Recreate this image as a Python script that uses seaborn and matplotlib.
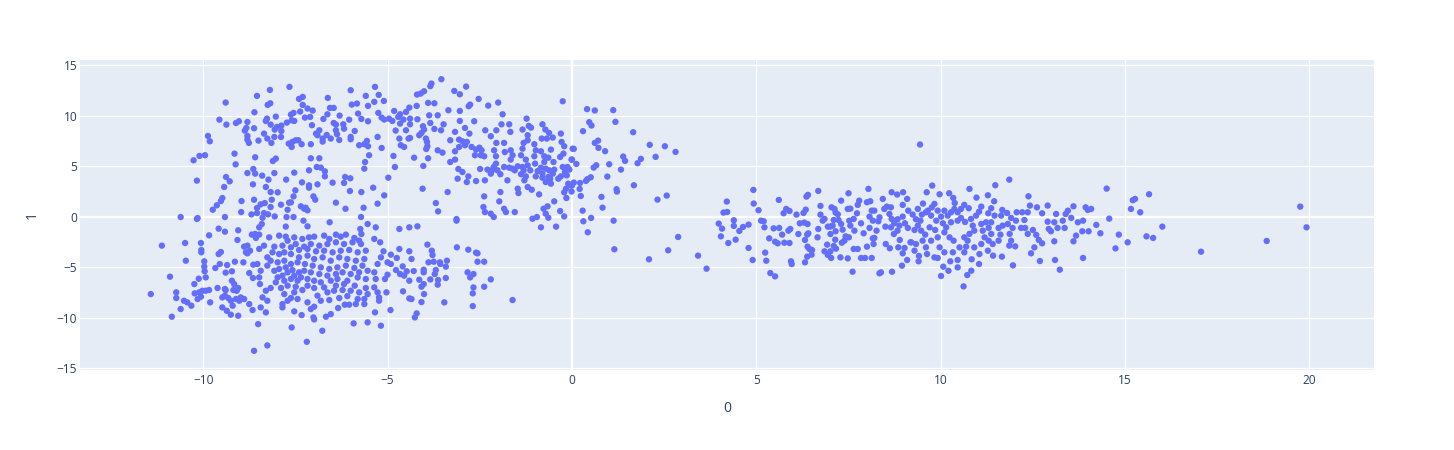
import matplotlib

matplotlib.use("Agg")
import matplotlib.pyplot as plt
import seaborn as sns
import pandas as pd

# --- points, grouped by region (x = column "0", y = column "1") ---
# upper-left blob, x -11.4..-5.5, y > -0.4
left_top = [
    (-7.66, 12.83), (-8.19, 12.53), (-8.54, 11.94), (-9.39, 11.28), (-8.25, 11.05), (-8.18, 11.21),
    (-7.40, 11.64), (-7.30, 11.84), (-7.30, 11.05), (-6.62, 11.74), (-6.00, 12.50), (-5.59, 11.94),
    (-5.97, 11.08), (-5.83, 11.18), (-5.53, 10.95), (-8.61, 10.32), (-8.03, 9.89), (-8.27, 9.69),
    (-8.30, 9.46), (-9.56, 9.59), (-9.37, 9.10), (-9.11, 9.26), (-9.03, 9.43), (-8.80, 9.36),
    (-8.83, 8.77), (-8.87, 8.51), (-8.62, 8.74), (-8.80, 7.98), (-8.80, 7.62), (-8.76, 7.29),
    (-8.50, 7.52), (-8.35, 8.21), (-8.26, 7.72), (-8.15, 7.29), (-8.17, 9.10), (-8.06, 8.61),
    (-8.00, 8.87), (-7.88, 9.00), (-7.73, 9.30), (-7.88, 8.47), (-7.89, 7.88), (-8.07, 7.88),
    (-7.60, 9.53), (-7.55, 10.26), (-7.62, 10.09), (-7.37, 10.39), (-7.17, 10.69), (-7.03, 10.49),
    (-7.10, 9.86), (-7.24, 9.79), (-7.53, 9.46), (-7.05, 9.04), (-6.85, 8.54), (-6.94, 8.21),
    (-6.90, 8.05), (-6.76, 7.72), (-6.76, 7.42), (-6.65, 8.08), (-6.54, 7.72), (-6.63, 10.12),
    (-6.74, 9.66), (-6.56, 10.75), (-6.46, 10.75), (-6.30, 9.99), (-6.46, 9.26), (-6.40, 9.10),
    (-6.40, 8.54), (-6.37, 8.15), (-6.31, 7.58), (-6.20, 9.13), (-6.18, 8.70), (-6.04, 9.59),
    (-5.89, 8.47), (-6.00, 7.88), (-6.00, 7.65), (-5.80, 10.19), (-5.71, 9.66), (-5.53, 9.43),
    (-7.68, 7.22), (-7.58, 7.39), (-7.49, 7.55), (-7.42, 7.55), (-7.33, 7.16), (-7.60, 6.89),
    (-7.08, 7.16), (-5.77, 7.06), (-5.63, 7.16), (-5.56, 7.49), (-5.53, 6.96), (-9.87, 7.98),
    (-9.82, 7.45), (-10.26, 5.57), (-10.10, 6.00), (-9.95, 6.07), (-9.15, 6.23), (-9.12, 5.17),
    (-8.59, 5.87), (-8.11, 5.50), (-8.03, 5.74), (-10.17, 3.56), (-9.38, 3.92), (-9.28, 3.49),
    (-9.43, 2.93), (-8.80, 4.31), (-8.64, 4.71), (-8.59, 4.25), (-8.40, 4.05), (-8.23, 3.66),
    (-8.07, 4.31), (-8.65, 3.19), (-8.30, 2.93), (-8.17, 2.43), (-7.98, 2.40), (-7.75, 3.66),
    (-7.53, 4.35), (-7.08, 5.77), (-6.85, 5.77), (-7.13, 4.58), (-6.92, 4.91), (-6.81, 4.84),
    (-6.70, 4.48), (-6.70, 3.98), (-6.90, 3.19), (-7.13, 3.09), (-7.13, 2.86), (-7.32, 3.39),
    (-7.50, 2.60), (-7.55, 2.00), (-7.67, 1.38), (-7.89, 1.18), (-8.14, 1.67), (-8.33, 1.34),
    (-8.44, 1.21), (-8.62, 1.67), (-8.54, 0.85), (-8.35, 0.35), (-8.24, 0.22), (-8.17, 0.95),
    (-8.06, 0.02), (-7.71, 0.68), (-7.62, 1.41), (-7.35, 1.02), (-7.22, 0.88), (-7.01, 2.00),
    (-6.96, 1.67), (-6.49, 3.36), (-6.15, 3.92), (-6.01, 3.79), (-6.18, 3.33), (-6.02, 2.53),
    (-5.71, 2.43), (-5.61, 5.40), (-5.63, 4.74), (-5.50, 6.07), (-6.40, 1.38), (-6.14, 0.78),
    (-5.65, 0.88), (-5.72, -0.04), (-8.96, 1.54), (-8.97, 0.45), (-9.48, 1.84), (-9.52, 1.54),
    (-9.63, 1.12), (-9.74, 0.68), (-9.41, -0.04), (-10.15, -0.14), (-10.61, -0.04), (-8.69, 0.22),
    (-8.54, 0.35), (-8.39, -0.11), (-7.26, 0.78), (-7.74, -0.04), (-7.55, -0.04), (-7.17, 0.62),
]

# lower-left blob, x -11.5..-5.5, y < -0.4
left_bottom = [
    (-10.17, -0.23), (-11.12, -2.87), (-10.49, -2.61), (-10.47, -4.36), (-10.06, -2.61), (-10.05, -3.30),
    (-10.05, -3.53), (-9.84, -1.85), (-9.58, -1.19), (-9.41, -1.49), (-9.05, -1.35), (-9.58, -3.70),
    (-9.52, -3.50), (-9.97, -4.42), (-9.97, -4.95), (-9.96, -5.41), (-9.55, -4.69), (-9.67, -5.08),
    (-9.35, -4.79), (-9.39, -5.54), (-9.22, -5.41), (-9.14, -4.46), (-9.07, -2.31), (-8.89, -2.97),
    (-8.80, -3.63), (-8.73, -3.37), (-8.91, -4.52), (-8.75, -5.58), (-8.65, -6.07), (-8.64, -4.75),
    (-8.68, -1.78), (-8.59, -1.72), (-8.48, -1.78), (-8.41, -0.73), (-8.48, -1.06), (-8.57, -2.11),
    (-8.80, -2.87), (-8.84, -3.53), (-8.48, -3.20), (-8.35, -2.87), (-8.21, -2.05), (-8.07, -2.97),
    (-8.12, -3.53), (-8.26, -4.03), (-8.53, -4.69), (-8.44, -5.35), (-8.48, -6.01), (-8.46, -6.67),
    (-8.26, -4.85), (-8.17, -4.36), (-8.07, -5.35), (-7.98, -6.01), (-8.03, -6.50), (-8.17, -7.06),
    (-8.30, -7.33), (-8.39, -7.99), (-8.26, -8.32), (-8.44, -8.98), (-8.30, -9.47), (-8.51, -10.63),
    (-8.66, -9.24), (-8.89, -8.15), (-8.75, -8.65), (-9.05, -9.80), (-9.25, -9.70), (-9.36, -9.31),
    (-9.48, -8.98), (-9.20, -8.81), (-9.02, -8.32), (-8.98, -7.99), (-9.11, -8.15), (-9.25, -8.32),
    (-9.32, -8.05), (-9.41, -7.82), (-9.48, -7.99), (-9.39, -7.26), (-9.18, -7.26), (-9.16, -6.67),
    (-9.09, -7.33), (-9.05, -7.06), (-9.22, -6.34), (-9.41, -7.16), (-9.61, -7.06), (-9.84, -7.26),
    (-9.81, -8.48), (-10.06, -7.92), (-10.11, -7.49), (-10.02, -7.33), (-9.93, -7.33), (-10.23, -7.59),
    (-10.24, -6.67), (-10.12, -6.14), (-9.93, -6.01), (-10.15, -8.15), (-10.43, -8.48), (-10.52, -8.32),
    (-10.32, -8.81), (-10.61, -9.14), (-10.73, -7.49), (-10.73, -8.05), (-10.85, -9.90), (-10.90, -5.94),
    (-11.42, -7.66), (-8.62, -13.27), (-8.26, -12.74), (-7.60, -10.96), (-7.19, -12.38), (-6.77, -11.29),
    (-5.92, -10.56), (-5.54, -10.46), (-6.99, -10.17), (-7.01, -9.97), (-7.33, -9.74), (-7.53, -9.37),
    (-7.85, -8.98), (-7.85, -8.65), (-7.71, -8.32), (-7.44, -8.15), (-7.17, -8.48), (-7.08, -9.14),
    (-6.99, -8.91), (-6.67, -9.90), (-6.54, -9.64), (-6.34, -9.04), (-6.16, -8.71), (-6.04, -8.71),
    (-5.86, -8.65), (-5.63, -8.65), (-5.63, -8.15), (-5.81, -8.15), (-6.09, -7.86), (-6.31, -8.05),
    (-6.58, -8.25), (-6.81, -8.32), (-6.90, -7.82), (-6.63, -7.49), (-6.45, -7.33), (-6.22, -7.26),
    (-6.00, -7.33), (-5.77, -7.49), (-5.54, -7.66), (-5.59, -7.06), (-5.89, -6.83), (-6.18, -6.67),
    (-6.40, -6.83), (-6.72, -7.00), (-6.99, -7.06), (-7.17, -6.83), (-7.31, -7.26), (-7.53, -7.49),
    (-7.62, -8.05), (-7.80, -7.66), (-7.89, -7.06), (-7.71, -6.83), (-7.49, -6.93), (-7.44, -6.34),
    (-7.62, -6.17), (-7.80, -6.34), (-7.85, -5.84), (-7.71, -5.51), (-7.53, -5.84), (-7.35, -6.01),
    (-7.17, -6.17), (-6.99, -6.34), (-6.81, -6.50), (-6.54, -6.34), (-6.36, -6.17), (-6.09, -6.34),
    (-5.81, -6.01), (-5.59, -6.17), (-5.54, -5.35), (-5.77, -5.51), (-6.00, -5.68), (-6.22, -5.51),
    (-6.40, -5.68), (-6.63, -5.84), (-6.85, -5.68), (-7.08, -5.51), (-7.26, -5.35), (-7.40, -5.51),
    (-7.58, -5.28), (-7.76, -5.02), (-7.94, -5.18), (-7.98, -4.52), (-7.80, -4.36), (-7.62, -4.69),
    (-7.44, -4.52), (-7.24, -4.69), (-7.03, -4.85), (-6.81, -5.02), (-6.58, -5.18), (-6.36, -5.02),
    (-6.13, -4.85), (-5.90, -5.08), (-5.68, -4.85), (-5.63, -4.19), (-5.86, -4.36), (-6.09, -4.19),
    (-6.31, -4.03), (-6.54, -4.36), (-6.76, -4.03), (-6.99, -4.19), (-7.17, -3.86), (-7.40, -4.03),
    (-7.62, -3.70), (-7.80, -3.53), (-7.94, -3.70), (-7.85, -2.87), (-7.62, -3.04), (-7.40, -3.30),
    (-7.17, -3.20), (-6.94, -3.43), (-6.72, -3.37), (-6.49, -3.53), (-6.27, -3.37), (-6.04, -3.30),
    (-5.81, -3.53), (-5.59, -3.37), (-5.72, -2.71), (-5.95, -2.54), (-6.18, -2.71), (-6.40, -2.54),
    (-6.63, -2.71), (-6.85, -2.87), (-7.08, -2.71), (-7.26, -2.97), (-7.49, -2.71), (-7.71, -2.38),
    (-7.94, -1.88), (-7.76, -1.98), (-7.53, -2.05), (-7.31, -2.21), (-7.13, -2.05), (-6.99, -1.98),
    (-6.72, -1.88), (-6.58, -2.21), (-6.40, -1.78), (-6.27, -1.98), (-6.13, -1.78), (-5.90, -2.11),
    (-5.77, -2.38), (-5.71, -1.72), (-5.74, -1.22), (-5.54, -0.73), (-6.57, -0.56), (-7.17, -0.96),
    (-7.28, -0.40), (-7.76, -0.99),
]

# upper-middle arc, x -5.5..0.2, y > -0.4
mid_top = [
    (-3.54, 13.59), (-3.81, 13.16), (-3.84, 12.90), (-4.20, 12.07), (-4.10, 12.17), (-4.01, 12.40),
    (-5.34, 12.83), (-5.24, 12.04), (-5.36, 11.35), (-5.10, 11.44), (-3.19, 12.43), (-3.04, 12.10),
    (-2.87, 12.86), (-2.53, 11.64), (-2.27, 10.98), (-2.00, 11.28), (-2.80, 10.92), (-2.76, 11.08),
    (-0.25, 11.41), (-3.90, 11.25), (-3.73, 11.21), (-4.21, 10.95), (-4.41, 10.78), (-4.50, 10.35),
    (-4.66, 10.12), (-4.82, 10.45), (-5.25, 10.26), (-5.16, 9.79), (-5.09, 9.60), (-4.96, 9.69),
    (-4.87, 9.46), (-4.71, 9.86), (-4.57, 9.60), (-4.39, 9.69), (-4.19, 9.63), (-4.39, 9.13),
    (-4.66, 9.20), (-4.78, 8.51), (-4.50, 8.54), (-4.04, 8.94), (-4.01, 8.61), (-4.08, 8.28),
    (-4.14, 8.05), (-3.87, 10.02), (-3.84, 9.26), (-3.64, 10.02), (-3.35, 10.52), (-3.04, 10.45),
    (-3.73, 8.67), (-3.55, 8.54), (-3.48, 9.13), (-4.43, 7.72), (-4.39, 7.78), (-4.64, 7.06),
    (-4.55, 6.89), (-3.96, 7.72), (-3.93, 7.39), (-3.92, 6.96), (-3.95, 6.69), (-3.64, 6.56),
    (-3.51, 6.33), (-4.28, 5.83), (-3.90, 5.77), (-4.03, 5.01), (-4.84, 6.00), (-4.80, 4.91),
    (-4.98, 3.85), (-5.39, 2.86), (-5.09, 2.10), (-5.27, 1.28), (-4.05, 2.76), (-3.37, 2.43),
    (-3.69, 1.34), (-3.63, 0.52), (-3.13, -0.24), (-3.30, 7.55), (-3.17, 8.38), (-3.04, 9.46),
    (-2.90, 8.77), (-2.78, 8.21), (-2.65, 9.43), (-3.06, 7.62), (-2.97, 7.45), (-2.90, 7.06),
    (-2.85, 7.39), (-3.17, 6.46), (-3.06, 6.89), (-2.72, 6.89), (-2.60, 6.63), (-2.51, 6.82),
    (-2.45, 6.56), (-2.63, 6.07), (-2.47, 6.07), (-2.38, 5.97), (-3.30, 5.40), (-3.17, 5.64),
    (-3.08, 4.71), (-2.97, 4.41), (-3.10, 3.75), (-2.85, 3.42), (-2.81, 3.98), (-2.60, 3.52),
    (-2.49, 4.71), (-2.36, 3.59), (-2.29, 4.65), (-2.17, 4.58), (-2.12, 4.91), (-2.06, 5.24),
    (-2.06, 5.97), (-2.11, 6.56), (-2.05, 7.29), (-2.20, 7.95), (-2.35, 8.54), (-2.05, 8.54),
    (-1.91, 9.13), (-1.88, 10.12), (-1.70, 9.13), (-1.67, 8.38), (-1.84, 7.29), (-1.82, 6.39),
    (-1.66, 6.56), (-1.61, 6.07), (-1.66, 5.64), (-1.70, 4.84), (-1.84, 4.91), (-2.02, 4.58),
    (-1.94, 4.19), (-2.20, 4.25), (-1.75, 3.59), (-1.61, 4.74), (-1.55, 4.58), (-1.47, 4.98),
    (-1.34, 4.91), (-1.31, 4.58), (-1.38, 4.19), (-1.25, 3.98), (-1.29, 3.59), (-1.13, 4.58),
    (-1.20, 5.07), (-1.25, 5.64), (-1.38, 6.07), (-1.34, 6.72), (-1.31, 7.29), (-1.20, 7.55),
    (-1.20, 8.05), (-1.34, 8.61), (-1.23, 9.69), (-1.17, 8.97), (-1.11, 8.80), (-1.02, 7.16),
    (-0.98, 6.56), (-1.02, 5.97), (-1.00, 5.24), (-0.93, 4.51), (-0.98, 3.98), (-0.84, 4.84),
    (-0.80, 4.25), (-0.80, 3.85), (-0.71, 4.74), (-0.75, 5.40), (-0.75, 5.97), (-0.84, 6.46),
    (-0.82, 7.72), (-0.80, 9.13), (-0.72, 8.61), (-0.62, 8.28), (-0.52, 7.82), (-0.68, 7.72),
    (-0.57, 6.63), (-0.64, 5.83), (-0.50, 5.40), (-0.62, 4.58), (-0.52, 4.25), (-0.48, 4.65),
    (-0.64, 3.92), (-0.71, 3.42), (-0.57, 3.26), (-0.59, 3.75), (-0.37, 3.75), (-0.30, 8.21),
    (-0.28, 7.39), (-0.21, 6.96), (-0.23, 6.23), (-0.32, 5.90), (-0.25, 4.91), (-0.19, 4.41),
    (-0.30, 3.98), (-0.12, 4.91), (-0.14, 4.08), (-0.07, 4.65), (-0.01, 5.64), (0.02, 6.72),
    (-0.10, 3.26), (-0.16, 2.76), (-0.03, 3.09), (-0.21, 2.40), (-0.15, 1.84), (-2.38, 2.00),
    (-2.40, 0.95), (-2.36, 0.45), (-2.20, 0.29), (-2.12, -0.04), (-1.97, 1.51), (-1.94, 2.43),
    (-1.84, 0.78), (-1.79, 0.45), (-1.55, 0.45), (-1.47, 2.76), (-1.45, 2.33), (-1.20, 2.93),
    (-1.09, 2.66), (-0.89, 2.20), (-1.07, -0.21), (-0.95, -0.04), (-0.77, 0.78), (-0.71, 0.29),
    (-0.64, -0.11), (-0.66, 1.02), (-0.48, 1.51), (-0.32, 0.55), (-0.21, 0.02), (-5.16, 6.79),
    (-5.27, 7.88), (-4.68, 7.72),
]

# lower-middle, x -5.5..0.2, y < -0.4
mid_bottom = [
    (-5.32, -1.06), (-4.68, -1.22), (-4.41, -1.06), (-4.19, -0.96), (-3.13, -0.40), (-5.36, -2.21),
    (-5.20, -2.54), (-5.11, -3.43), (-5.18, -4.03), (-5.27, -4.69), (-5.36, -5.51), (-5.32, -6.17),
    (-5.36, -7.00), (-5.27, -7.49), (-5.23, -7.99), (-5.23, -8.32), (-5.34, -9.47), (-5.18, -10.79),
    (-4.91, -3.76), (-5.00, -4.52), (-4.91, -4.69), (-4.77, -5.28), (-4.75, -4.09), (-4.68, -3.20),
    (-4.41, -3.43), (-4.35, -4.19), (-4.59, -4.92), (-4.66, -5.68), (-4.55, -5.84), (-4.48, -5.41),
    (-4.29, -5.38), (-4.41, -6.34), (-5.00, -5.74), (-5.07, -6.17), (-5.03, -7.49), (-4.58, -7.39),
    (-4.41, -8.09), (-4.35, -8.15), (-4.92, -9.24), (-4.21, -9.57), (-4.26, -9.97), (-4.08, -8.45),
    (-4.01, -7.66), (-4.08, -6.93), (-4.02, -6.67), (-4.14, -6.24), (-4.02, -5.51), (-4.02, -5.25),
    (-3.84, -6.21), (-3.92, -2.77), (-3.80, -3.37), (-3.78, -3.80), (-3.89, -4.52), (-3.75, -4.46),
    (-3.57, -4.69), (-3.58, -4.52), (-3.69, -5.28), (-3.72, -5.68), (-3.63, -6.27), (-3.64, -6.73),
    (-3.42, -4.95), (-3.39, -4.36), (-3.42, -6.07), (-3.46, -8.48), (-3.12, -3.04), (-2.81, -3.27),
    (-2.60, -3.56), (-2.56, -3.63), (-2.56, -4.46), (-2.38, -4.46), (-2.83, -5.51), (-2.76, -6.01),
    (-2.67, -5.68), (-2.67, -7.00), (-2.69, -7.59), (-2.69, -8.85), (-2.20, -6.21), (-2.38, -6.93),
    (-1.61, -8.25), (-0.84, -1.06), (-0.43, -0.99),
]

# the gap between the groups, x 0..3.5
gap_pts = [
    (0.41, 10.63), (0.62, 10.50), (1.12, 10.53), (1.18, 9.37), (0.47, 9.34), (0.53, 9.01),
    (0.30, 8.45), (1.66, 8.35), (0.62, 7.29), (0.71, 7.52), (0.72, 6.80), (0.05, 6.70),
    (0.90, 6.47), (2.11, 7.10), (2.52, 6.96), (2.81, 6.40), (2.27, 5.91), (1.87, 5.71),
    (1.78, 5.28), (1.39, 5.94), (1.44, 5.51), (1.01, 5.18), (0.66, 5.08), (0.59, 4.85),
    (0.12, 5.21), (0.00, 5.64), (1.33, 4.65), (0.96, 3.96), (0.51, 3.89), (0.42, 3.70),
    (0.38, 3.53), (0.22, 3.33), (0.05, 3.37), (0.00, 3.07), (0.21, 2.74), (-0.01, 2.48),
    (0.24, 2.04), (0.80, 1.95), (1.21, 2.71), (1.22, 2.48), (1.68, 3.10), (2.32, 1.68),
    (2.57, 2.08), (0.83, 0.89), (0.29, 0.59), (0.31, -0.46), (0.52, -0.13), (0.43, -1.55),
    (1.13, -0.40), (1.15, -3.23), (2.09, -4.22), (2.61, -3.33), (2.88, -2.01), (3.42, -3.86),
]

# right band, x 3.5..9.2
right_a = [
    (3.65, -5.15), (3.98, -0.69), (4.07, -1.19), (4.04, -1.95), (4.24, -2.61), (4.44, -2.28),
    (4.39, -0.92), (4.39, -0.36), (4.11, 0.40), (4.21, 0.46), (4.20, 1.49), (4.54, -1.42),
    (4.64, -1.02), (4.79, -0.79), (4.79, -3.10), (4.90, -4.29), (4.92, 2.64), (4.93, 1.29),
    (5.06, 0.63), (5.13, -0.40), (5.20, -0.46), (5.22, -1.06), (5.35, -2.15), (5.24, -3.56),
    (5.27, -4.36), (5.38, -5.58), (5.51, -5.91), (5.47, -1.16), (5.62, -1.12), (5.61, 1.65),
    (5.51, -2.48), (5.58, -2.64), (5.76, -2.58), (5.90, -2.61), (5.70, -1.78), (5.87, -1.39),
    (5.92, -1.22), (5.74, 0.33), (5.81, 0.76), (5.90, 0.56), (6.09, 0.20), (6.14, -1.72),
    (5.94, -4.42), (5.96, -4.69), (6.18, -0.66), (6.30, -0.59), (6.39, -0.73), (6.28, 0.36),
    (6.34, 0.69), (6.36, 1.98), (6.40, 2.15), (6.32, -2.31), (6.38, -1.78), (6.41, -1.65),
    (6.39, -2.97), (6.44, -3.20), (6.51, -3.30), (6.50, -3.76), (6.38, -3.96), (6.32, -4.52),
    (6.66, -2.05), (6.68, -1.22), (6.68, 2.54), (6.74, 1.06), (6.74, 0.20), (6.80, -0.40),
    (6.85, -0.23), (6.94, -0.99), (7.01, -0.99), (7.01, -1.72), (6.92, -2.77), (6.85, -3.43),
    (6.94, -3.79), (7.03, -4.09), (7.01, -3.43), (7.10, -2.90), (7.16, -3.17), (7.14, -2.28),
    (7.15, -1.45), (7.07, -0.89), (7.10, -0.33), (7.04, 0.92), (7.12, 0.76), (7.15, 0.40),
    (7.21, 0.23), (7.23, -0.33), (7.30, -0.73), (7.34, -1.29), (7.42, -1.95), (7.32, -2.58),
    (7.28, -4.03), (7.30, 1.58), (7.50, 2.31), (7.48, 0.76), (7.55, 0.79), (7.52, -0.40),
    (7.55, -0.89), (7.51, -2.05), (7.48, -4.13), (7.39, -2.38), (7.61, -5.45), (7.64, -3.20),
    (7.75, -3.20), (7.66, -1.39), (7.64, -0.23), (7.73, 0.33), (7.75, 1.16), (7.79, 1.58),
    (7.84, -0.66), (7.91, -1.65), (8.00, -2.97), (7.84, -4.09), (7.95, -4.09), (8.13, -4.09),
    (8.04, 2.74), (8.00, 1.42), (8.09, 1.52), (8.13, 0.59), (8.20, 0.59), (8.07, 0.00),
    (8.16, -0.40), (8.07, -1.12), (8.16, -2.15), (8.18, -2.71), (8.20, -2.11), (8.26, -1.39),
    (8.31, -0.46), (8.34, -0.07), (8.43, 1.75), (8.47, 0.76), (8.54, 0.99), (8.50, -0.99),
    (8.51, -2.71), (8.62, -3.13), (8.34, -5.61), (8.38, -5.51), (8.68, -5.45), (8.67, 2.41),
    (8.82, 2.18), (8.65, 0.92), (8.61, 0.26), (8.67, -0.23), (8.74, -0.66), (8.65, -1.06),
    (8.73, -1.72), (8.83, -1.39), (8.89, -2.31), (8.85, -3.04), (8.97, -3.63), (8.95, -4.85),
    (9.09, -4.29), (9.02, -3.10), (9.11, -1.12), (9.03, -0.66), (8.97, 0.00), (8.97, 1.16),
    (8.98, 2.41), (9.09, 1.75), (9.12, 0.59), (9.18, -2.54), (8.83, -0.26), (8.88, -0.89),
]

# right band, x 9.2..15.2
right_b = [
    (9.44, 7.13), (9.62, 2.41), (9.77, 3.07), (9.52, 1.29), (9.97, 2.21), (10.23, 2.31),
    (10.34, 1.85), (10.38, 1.35), (10.78, 2.74), (10.97, 1.88), (11.28, 2.11), (11.48, 3.10),
    (11.45, 1.52), (11.86, 3.66), (11.10, 0.99), (10.64, 1.16), (10.76, 0.83), (11.04, 0.49),
    (11.37, 0.83), (11.67, 0.66), (11.80, 0.36), (12.06, 0.43), (12.21, 0.43), (12.38, 2.01),
    (12.42, 1.09), (12.36, 0.43), (12.61, 0.92), (12.90, 1.09), (12.75, 0.33), (13.13, 0.26),
    (13.39, 0.26), (13.45, 0.59), (13.60, 1.02), (13.93, 0.92), (14.08, 0.76), (13.99, 0.66),
    (14.50, 2.77), (14.57, -0.20), (14.22, -0.82), (14.33, -1.65), (14.74, -3.14), (14.83, -1.78),
    (15.07, -2.54), (15.16, 0.76), (13.86, -4.09), (13.23, -5.25), (13.10, -4.29), (12.69, -4.39),
    (12.45, -3.63), (12.54, -3.04), (12.75, -2.64), (13.08, -2.44), (13.60, -2.44), (13.67, -1.88),
    (13.84, -1.45), (14.01, -1.45), (13.86, -0.40), (13.72, -0.56), (13.54, -0.13), (13.31, -0.40),
    (13.08, -0.56), (12.90, -0.50), (12.93, -1.22), (12.99, -1.45), (13.17, -1.12), (13.36, -1.12),
    (12.59, -1.81), (12.66, -2.31), (12.29, -1.12), (12.36, -1.71), (12.50, -1.32), (12.18, -1.12),
    (12.27, -0.33), (12.04, -0.40), (11.95, -1.12), (11.87, -1.71), (11.91, -2.38), (12.02, -2.94),
    (11.86, -2.87), (11.96, -4.82), (11.66, -3.96), (11.42, -3.86), (11.04, -4.69), (10.83, -5.35),
    (10.72, -5.78), (10.62, -6.90), (10.46, -5.02), (10.46, -4.29), (10.26, -4.42), (10.21, -5.35),
    (10.07, -4.95), (10.01, -5.87), (9.92, -4.09), (9.83, -4.03), (9.63, -3.70), (9.40, -4.42),
    (9.41, -3.89), (9.29, -3.37), (9.20, -2.54), (9.33, -2.71), (9.29, -1.32), (9.47, -1.39),
    (9.58, -1.78), (9.45, -0.40), (9.33, -0.26), (9.24, 0.20), (9.38, 0.76), (9.65, 0.59),
    (9.74, 0.10), (9.83, 1.26), (9.92, 0.59), (10.10, 0.59), (10.01, 0.00), (10.19, 0.10),
    (10.28, 0.43), (10.37, 0.76), (10.46, 0.43), (10.55, 0.76), (10.55, -0.13), (10.66, -0.53),
    (10.82, -0.23), (10.87, -0.89), (10.91, -1.39), (10.78, -1.71), (10.64, -2.05), (10.73, -2.38),
    (10.69, -2.97), (10.51, -3.04), (10.35, -2.38), (10.24, -2.05), (10.10, -1.55), (10.15, -1.06),
    (10.06, -0.66), (9.88, -0.40), (9.85, -1.32), (9.92, -2.05), (9.74, -2.38), (9.97, -3.04),
    (10.10, -3.53), (10.33, -3.53), (10.64, -3.53), (10.91, -3.04), (11.10, -2.71), (11.19, -2.05),
    (11.14, -1.39), (11.10, -0.73), (11.23, -0.56), (11.37, -0.56), (11.30, -1.12), (11.37, -1.71),
    (11.30, -2.38), (11.41, -2.71), (11.57, -2.38), (11.62, -1.78), (11.57, -1.12), (11.68, -0.89),
    (11.82, -0.73), (11.91, -0.13), (11.28, -3.37), (11.05, -3.70), (10.84, -4.22), (11.64, 0.10),
    (11.46, 0.10), (11.29, 0.33), (10.96, 0.10), (10.46, -0.40), (10.28, -0.56), (9.70, -1.06),
    (9.51, -2.38), (9.60, -3.04), (9.49, 0.20), (9.60, 0.43), (9.76, 0.92), (9.38, -0.89),
]

# far-right tail
right_tail = [
    (15.21, 1.62), (15.27, 1.75), (15.41, 0.43), (15.65, 2.21), (15.58, -1.95), (15.76, -2.11),
    (16.01, -0.99), (17.06, -3.47), (18.84, -2.41), (19.75, 0.99), (19.92, -1.06),
]

xticks = [-10, -5, 0, 5, 10, 15, 20]
yticks = [-15, -10, -5, 0, 5, 10, 15]

points = left_top + left_bottom + mid_top + mid_bottom + gap_pts + right_a + right_b + right_tail
df = pd.DataFrame(points, columns=["0", "1"])

# plotly-like look
sns.set_style("darkgrid", {"axes.facecolor": "#E5ECF6", "grid.color": "white"})
plt.rcParams["font.family"] = ["Open Sans", "DejaVu Sans"]
text_col = "#2a3f5f"

W, H = 1454, 450
fig = plt.figure(figsize=(W / 100, H / 100), dpi=100)
ax = fig.add_axes([80 / W, 1 - 369.5 / H, (1374 - 80) / W, (369.5 - 60) / H])

ax.axhline(0, color="white", lw=1.6, zorder=1)
ax.axvline(0, color="white", lw=1.6, zorder=1)
sns.scatterplot(data=df, x="0", y="1", ax=ax, color="#636EFA", s=21,
                linewidth=0, edgecolor="none", zorder=3)

ax.set_xlim(-13.34, 21.75)
ax.set_ylim(-15.12, 15.49)
ax.set_xticks(xticks)
ax.set_yticks(yticks)
ax.grid(True, color="white", lw=0.9)
ax.set_axisbelow(True)
for sp in ax.spines.values():
    sp.set_visible(False)
ax.tick_params(length=0, labelsize=8.6, labelcolor=text_col)
ax.tick_params(axis="x", pad=3)
ax.tick_params(axis="y", pad=2)
ax.set_xlabel("0", fontsize=10, color=text_col, labelpad=10)
ax.set_ylabel("1", fontsize=10, color=text_col, labelpad=12)

fig.savefig("out.png", dpi=100)
plt.close(fig)
